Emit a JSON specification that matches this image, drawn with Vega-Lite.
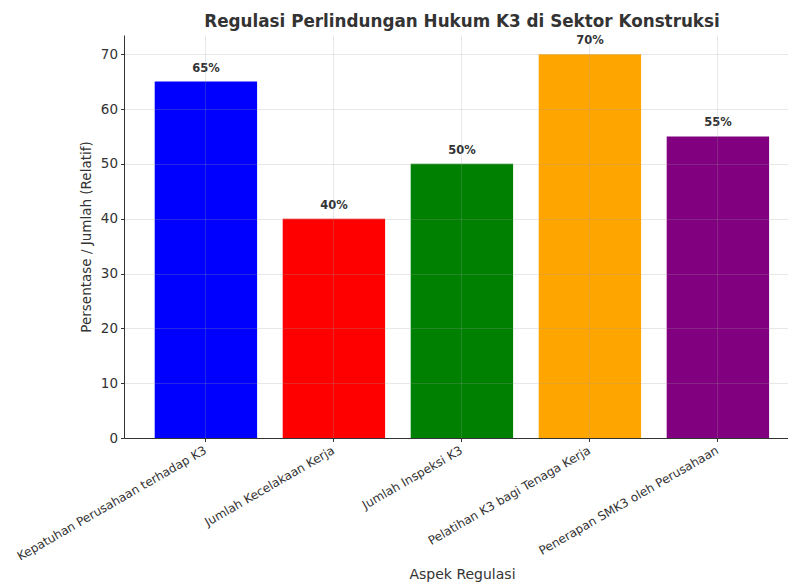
{
  "$schema": "https://vega.github.io/schema/vega-lite/v6.json",
  "autosize": {"type": "none"},
  "padding": {"left": 124, "top": 35, "right": 0, "bottom": 144},
  "width": 664,
  "height": 403,
  "background": "white",
  "config": {
    "font": "DejaVu Sans",
    "view": {"stroke": null}
  },
  "title": {
    "text": "Regulasi Perlindungan Hukum K3 di Sektor Konstruksi",
    "font": "DejaVu Sans",
    "fontSize": 16.8,
    "fontWeight": "bold",
    "color": "#333333",
    "anchor": "middle",
    "frame": "group",
    "dx": 6,
    "offset": 4
  },
  "data": {
    "values": [
      {"aspek": "Kepatuhan Perusahaan terhadap K3", "nilai": 65, "label": "65%", "warna": "#0000FF"},
      {"aspek": "Jumlah Kecelakaan Kerja", "nilai": 40, "label": "40%", "warna": "#FF0000"},
      {"aspek": "Jumlah Inspeksi K3", "nilai": 50, "label": "50%", "warna": "#008000"},
      {"aspek": "Pelatihan K3 bagi Tenaga Kerja", "nilai": 70, "label": "70%", "warna": "#FFA500"},
      {"aspek": "Penerapan SMK3 oleh Perusahaan", "nilai": 55, "label": "55%", "warna": "#800080"}
    ]
  },
  "encoding": {
    "x": {
      "field": "aspek",
      "type": "nominal",
      "sort": null,
      "scale": {"paddingInner": 0.2, "paddingOuter": 0.19375, "align": 0.619},
      "axis": {
        "title": "Aspek Regulasi",
        "titleFont": "DejaVu Sans",
        "titleFontSize": 14,
        "titleFontWeight": "normal",
        "titleColor": "#333333",
        "titleX": 338,
        "titleY": 136,
        "titleAlign": "center",
        "titleBaseline": "middle",
        "labelAngle": -30,
        "labelAlign": "right",
        "labelBaseline": "top",
        "labelFontSize": 12,
        "labelColor": "#333333",
        "labelPadding": 3,
        "labelLimit": 400,
        "labelOffset": -3,
        "tickSize": 3.5,
        "tickColor": "#333333",
        "domainColor": "#333333",
        "grid": true,
        "gridColor": "#a0a0a0",
        "gridOpacity": 0.3,
        "gridWidth": 0.8,
        "bandPosition": 0.5,
        "zindex": 1
      }
    }
  },
  "layer": [
    {
      "mark": {"type": "bar"},
      "encoding": {
        "y": {
          "field": "nilai",
          "type": "quantitative",
          "scale": {"domain": [0, 73.5], "nice": false},
          "axis": {
            "title": "Persentase / Jumlah (Relatif)",
            "titleFont": "DejaVu Sans",
            "titleFontSize": 13.5,
            "titleFontWeight": "normal",
            "titleColor": "#333333",
            "titlePadding": 7,
            "values": [0, 10, 20, 30, 40, 50, 60, 70],
            "labelFontSize": 13.5,
            "labelColor": "#333333",
            "labelPadding": 3,
            "tickSize": 3.5,
            "tickColor": "#333333",
            "domainColor": "#333333",
            "grid": true,
            "gridColor": "#a0a0a0",
            "gridOpacity": 0.3,
            "gridWidth": 0.8,
            "zindex": 1
          }
        },
        "color": {"field": "warna", "type": "nominal", "scale": null}
      }
    },
    {
      "mark": {"type": "text", "fontWeight": "bold", "fontSize": 11.5, "color": "#333333", "baseline": "middle", "dy": -13},
      "encoding": {
        "y": {"field": "nilai", "type": "quantitative"},
        "text": {"field": "label", "type": "nominal"}
      }
    }
  ]
}
